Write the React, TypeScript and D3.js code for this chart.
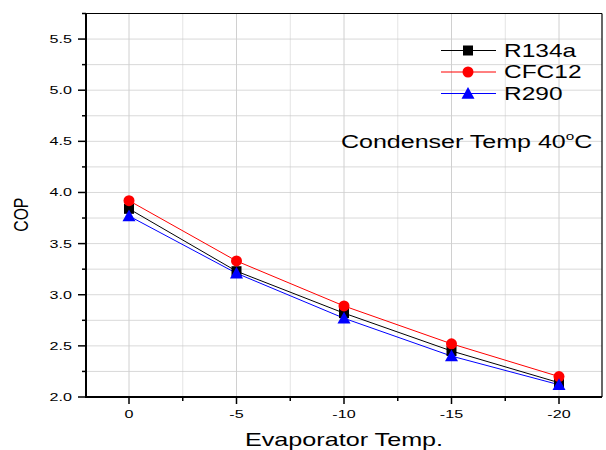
import React from "react";
import * as d3 from "d3";

const temps = [0, -5, -10, -15, -20];
const r134a = [3.84, 3.23, 2.82, 2.45, 2.14];
const cfc12 = [3.92, 3.33, 2.89, 2.52, 2.2];
const r290 = [3.77, 3.21, 2.77, 2.4, 2.12];
const seriesNames = ["R134a", "CFC12", "R290"];
const seriesColors = ["#000000", "#ff0000", "#0000ff"];
const seriesShapes = ["square", "circle", "triangle"];
const yTicks = [2.0, 2.5, 3.0, 3.5, 4.0, 4.5, 5.0, 5.5];
const yMinorTicks = [2.25, 2.75, 3.25, 3.75, 4.25, 4.75, 5.25, 5.75];
const xTicks = [0, -5, -10, -15, -20];
const xMinorTicks = [-2.5, -7.5, -12.5, -17.5];

const W = 606, H = 450;
const left = 86, right = 602, top = 13.5, bottom = 397;
const FONT = "'Liberation Sans', Arial, sans-serif";
const SX = 1.4;

function SText({ x, y, anchor = "start", size, children, sx = SX }: { x: number; y: number; anchor?: string; size: number; children: React.ReactNode; sx?: number }) {
  return (
    <text transform={`translate(${x},${y}) scale(${sx},1)`} textAnchor={anchor} fontSize={size} fontFamily={FONT} fill="#000">
      {children}
    </text>
  );
}

function Marker({ shape, x, y, color }: { shape: string; x: number; y: number; color: string }) {
  if (shape === "square") return <rect x={x - 5} y={y - 5} width={10} height={10} fill={color} />;
  if (shape === "circle") return <circle cx={x} cy={y} r={5.5} fill={color} />;
  const s = 6.5;
  return <path d={`M${x},${y - s}L${x + s},${y + s * 0.8}L${x - s},${y + s * 0.8}Z`} fill={color} />;
}

export default function App() {
  const x = d3.scaleLinear().domain([2, -22]).range([left, right]);
  const y = d3.scaleLinear().domain([2, 5.75]).range([bottom, top]);
  const data = [r134a, cfc12, r290];
  const line = d3.line<[number, number]>().x(d => x(d[0])).y(d => y(d[1]));
  const fmt = d3.format(".1f");

  return (
    <svg width={W} height={H} style={{ position: "absolute", left: 0, top: 0, background: "#fff" }}>
      <rect width={W} height={H} fill="#fff" />
      {/* grid */}
      {[...yTicks, ...yMinorTicks].filter(v => v > 2).map(v => (
        <line key={"gy" + v} x1={left} x2={right} y1={y(v)} y2={y(v)} stroke="#d9d9d9" strokeWidth={1} />
      ))}
      {xTicks.map(v => (
        <line key={"gx" + v} x1={x(v)} x2={x(v)} y1={top} y2={bottom} stroke="#d0d0d0" strokeWidth={1} />
      ))}
      {xMinorTicks.map(v => (
        <line key={"gxm" + v} x1={x(v)} x2={x(v)} y1={top} y2={bottom} stroke="#c8c8c8" strokeWidth={1} strokeDasharray="1,1" />
      ))}
      {/* frame */}
      <line x1={left} x2={right} y1={top} y2={top} stroke="#000" strokeWidth={1.2} />
      <line x1={right} x2={right} y1={top} y2={bottom} stroke="#000" strokeWidth={1.2} />
      <line x1={left} x2={left} y1={top - 0.5} y2={bottom + 1} stroke="#000" strokeWidth={2} />
      <line x1={left - 1} x2={right} y1={bottom} y2={bottom} stroke="#000" strokeWidth={2} />
      {/* y ticks */}
      {yTicks.map(v => (
        <g key={"yt" + v}>
          <line x1={left - 8} x2={left} y1={y(v)} y2={y(v)} stroke="#000" strokeWidth={1.5} />
          <SText x={72} y={y(v) + 4} anchor="end" size={11.5}>{fmt(v)}</SText>
        </g>
      ))}
      {yMinorTicks.map(v => (
        <line key={"ymt" + v} x1={left - 4} x2={left} y1={y(v)} y2={y(v)} stroke="#000" strokeWidth={1.5} />
      ))}
      {/* x ticks */}
      {xTicks.map(v => (
        <g key={"xt" + v}>
          <line x1={x(v)} x2={x(v)} y1={bottom} y2={bottom + 7} stroke="#000" strokeWidth={1.5} />
          <SText x={x(v)} y={418} anchor="middle" size={11.5}>{String(v)}</SText>
        </g>
      ))}
      {xMinorTicks.map(v => (
        <line key={"xmt" + v} x1={x(v)} x2={x(v)} y1={bottom} y2={bottom + 4} stroke="#000" strokeWidth={1.5} />
      ))}
      {/* axis titles */}
      <SText x={344} y={445.5} anchor="middle" size={18}>Evaporator Temp.</SText>
      <text transform="translate(27.5,214.7) scale(1.34,1) rotate(-90)" textAnchor="middle" fontSize={15.7} fontFamily={FONT} fill="#000">COP</text>
      {/* series */}
      {data.map((vals, i) => (
        <path key={"l" + i} d={line(temps.map((t, j) => [t, vals[j]]) as [number, number][]) || ""} fill="none" stroke={seriesColors[i]} strokeWidth={1} />
      ))}
      {data.map((vals, i) => (
        <g key={"m" + i}>
          {temps.map((t, j) => (
            <Marker key={j} shape={seriesShapes[i]} x={x(t)} y={y(vals[j])} color={seriesColors[i]} />
          ))}
        </g>
      ))}
      {/* legend */}
      {seriesNames.map((n, i) => {
        const ly = 50.5 + i * 21.5;
        return (
          <g key={"lg" + i}>
            <line x1={441} x2={496} y1={ly} y2={ly} stroke={seriesColors[i]} strokeWidth={1} />
            <Marker shape={seriesShapes[i]} x={468} y={ly} color={seriesColors[i]} />
            <SText x={504} y={ly + 6} size={17.5}>{n}</SText>
          </g>
        );
      })}
      <SText x={341} y={148} size={18} sx={1.39}>
        Condenser Temp 40<tspan fontSize={11} dy={-8}>o</tspan><tspan dy={8}>C</tspan>
      </SText>
    </svg>
  );
}
